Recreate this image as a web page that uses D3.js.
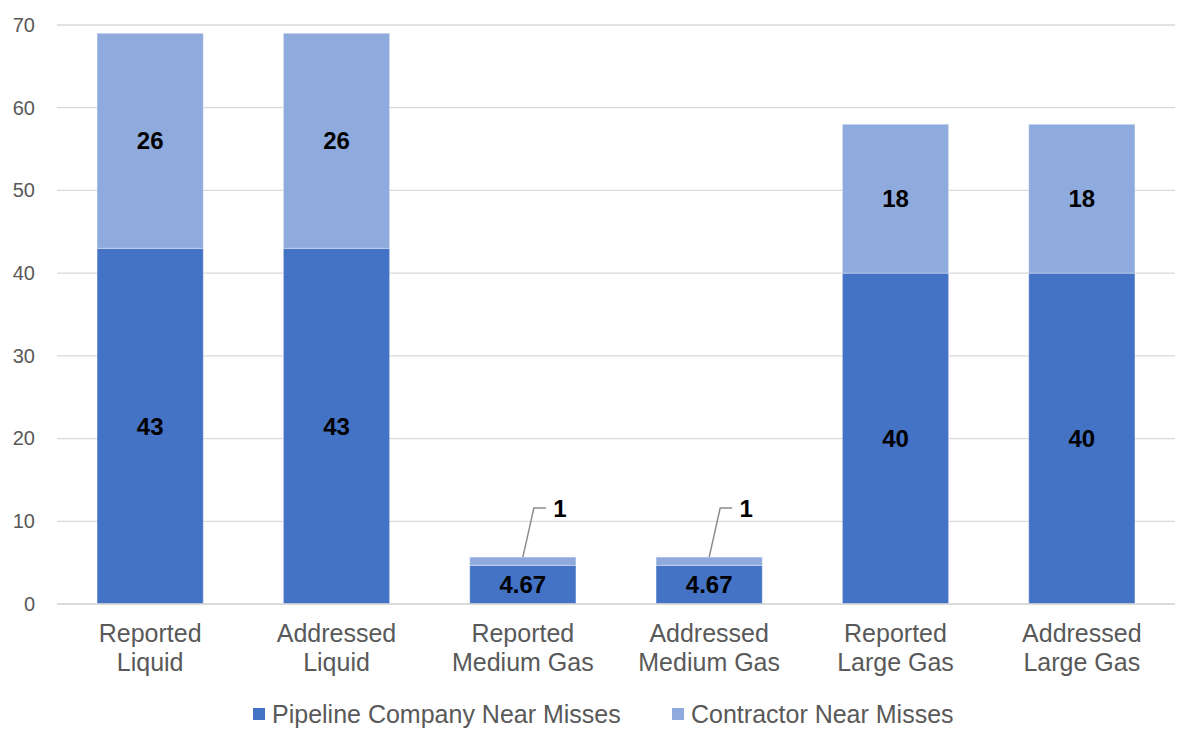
<!DOCTYPE html>
<html>
<head>
<meta charset="utf-8">
<script src="https://cdn.jsdelivr.net/npm/d3@7"></script>
<style>
  body { margin: 0; background: #fff; }
  svg { font-family: "Liberation Sans", Arial, sans-serif; }
</style>
</head>
<body>
<div id="chart"></div>
<script>
// ===== Données =====
const categories = [
  "Reported Liquid", "Addressed Liquid",
  "Reported Medium Gas", "Addressed Medium Gas",
  "Reported Large Gas", "Addressed Large Gas"
];
const catLines = [
  ["Reported", "Liquid"], ["Addressed", "Liquid"],
  ["Reported", "Medium Gas"], ["Addressed", "Medium Gas"],
  ["Reported", "Large Gas"], ["Addressed", "Large Gas"]
];
const pipelineValues = [43, 43, 4.67, 4.67, 40, 40];
const contractorValues = [26, 26, 1, 1, 18, 18];
const seriesNames = ["Pipeline Company Near Misses", "Contractor Near Misses"];
const yTicks = [0, 10, 20, 30, 40, 50, 60, 70];

const colors = ["#4472C4", "#8FAADC"];

const W = 1200, H = 732;
const margin = { top: 25, right: 25, bottom: 128, left: 57 };
const width = W - margin.left - margin.right;
const height = H - margin.top - margin.bottom;

const svg = d3.select("#chart").append("svg")
  .attr("width", W).attr("height", H);
const g = svg.append("g")
  .attr("transform", `translate(${margin.left},${margin.top})`);

const x = d3.scaleBand().domain(categories).range([0, width]).paddingInner(0.43).paddingOuter(0.215);
const y = d3.scaleLinear().domain([0, 70]).range([height, 0]);

// ===== Grille =====
g.selectAll("line.grid")
  .data(yTicks)
  .enter()
  .append("line")
  .attr("class", "grid")
  .attr("x1", 0).attr("x2", width)
  .attr("y1", (d) => y(d)).attr("y2", (d) => y(d))
  .attr("stroke", "#d9d9d9")
  .attr("stroke-width", 1.3);

// axe Y (texte seulement)
const yAxis = g.append("g")
  .call(d3.axisLeft(y).tickValues(yTicks).tickSize(0).tickPadding(22));
yAxis.select(".domain").remove();
yAxis.selectAll("text")
  .attr("fill", "#595959")
  .style("font-size", "20px");

// ===== Barres empilées =====
const stacked = categories.map((c, i) => ({
  cat: c,
  p: pipelineValues[i],
  c: contractorValues[i]
}));

const bars = g.selectAll("g.bar").data(stacked).enter().append("g").attr("class", "bar");

bars.append("rect")
  .attr("x", (d) => x(d.cat))
  .attr("width", x.bandwidth())
  .attr("y", (d) => y(d.p))
  .attr("height", (d) => y(0) - y(d.p))
  .attr("fill", colors[0])
  .attr("stroke", "#ffffff").attr("stroke-opacity", 0.35).attr("stroke-width", 1);

bars.append("rect")
  .attr("x", (d) => x(d.cat))
  .attr("width", x.bandwidth())
  .attr("y", (d) => y(d.p + d.c))
  .attr("height", (d) => y(d.p) - y(d.p + d.c))
  .attr("fill", colors[1])
  .attr("stroke", "#ffffff").attr("stroke-opacity", 0.35).attr("stroke-width", 1);

// étiquettes série 1
bars.append("text")
  .attr("x", (d) => x(d.cat) + x.bandwidth() / 2)
  .attr("y", (d) => (y(0) + y(d.p)) / 2)
  .attr("dy", "0.36em")
  .attr("text-anchor", "middle")
  .style("font-size", "24px")
  .style("font-weight", "bold")
  .attr("fill", "#000")
  .text((d) => d.p);

// étiquettes série 2 (dans la barre si assez haute, sinon avec un trait)
bars.filter((d) => y(d.p) - y(d.p + d.c) > 30)
  .append("text")
  .attr("x", (d) => x(d.cat) + x.bandwidth() / 2)
  .attr("y", (d) => (y(d.p) + y(d.p + d.c)) / 2)
  .attr("dy", "0.36em")
  .attr("text-anchor", "middle")
  .style("font-size", "24px")
  .style("font-weight", "bold")
  .attr("fill", "#000")
  .text((d) => d.c);

const small = bars.filter((d) => y(d.p) - y(d.p + d.c) <= 30);
small.append("polyline")
  .attr("points", (d) => {
    const cx = x(d.cat) + x.bandwidth() / 2;
    const top = y(d.p + d.c);
    return `${cx},${top} ${cx + 11},${top - 49} ${cx + 23},${top - 49}`;
  })
  .attr("fill", "none")
  .attr("stroke", "#8c8c8c")
  .attr("stroke-width", 1.5);
small.append("text")
  .attr("x", (d) => x(d.cat) + x.bandwidth() / 2 + 37)
  .attr("y", (d) => y(d.p + d.c) - 49)
  .attr("dy", "0.36em")
  .attr("text-anchor", "middle")
  .style("font-size", "24px")
  .style("font-weight", "bold")
  .attr("fill", "#000")
  .text((d) => d.c);

// ===== Axe X =====
g.append("line")
  .attr("x1", 0).attr("x2", width)
  .attr("y1", y(0)).attr("y2", y(0))
  .attr("stroke", "#d9d9d9").attr("stroke-width", 1.5);

const xLabels = g.selectAll("text.cat")
  .data(categories)
  .enter()
  .append("text")
  .attr("class", "cat")
  .attr("x", (d) => x(d) + x.bandwidth() / 2)
  .attr("y", y(0) + 38)
  .attr("text-anchor", "middle")
  .attr("fill", "#595959")
  .style("font-size", "25px");
xLabels.each(function (d, i) {
  const t = d3.select(this);
  catLines[i].forEach((line, j) => {
    t.append("tspan")
      .attr("x", x(d) + x.bandwidth() / 2)
      .attr("dy", j === 0 ? 0 : 29)
      .text(line);
  });
});

// ===== Légende =====
const legend = svg.append("g").attr("transform", `translate(0, 714)`);
const legendX = [253, 672];
seriesNames.forEach((name, i) => {
  legend.append("rect")
    .attr("x", legendX[i]).attr("y", -6)
    .attr("width", 12).attr("height", 12)
    .attr("fill", colors[i]);
  legend.append("text")
    .attr("x", legendX[i] + 19).attr("y", 0)
    .attr("dy", "0.36em")
    .attr("fill", "#595959")
    .style("font-size", "25px")
    .text(name);
});
</script>
</body>
</html>
